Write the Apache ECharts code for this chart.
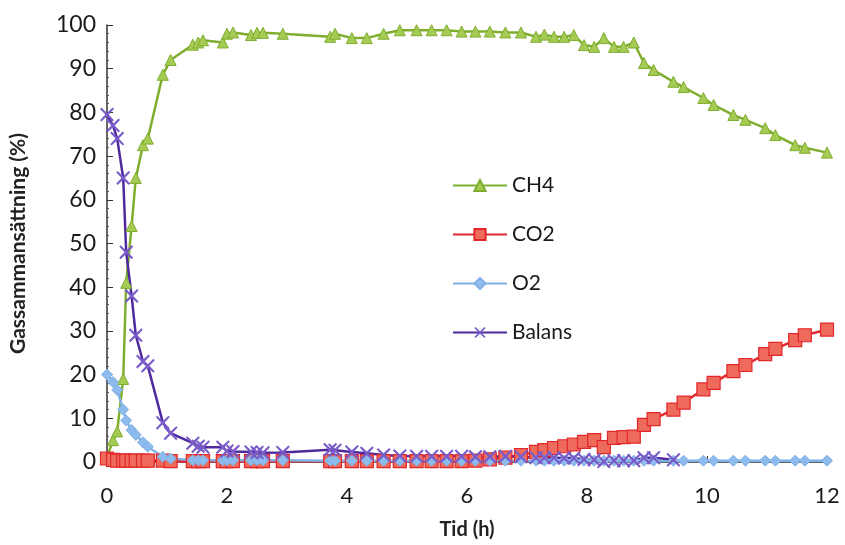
<!DOCTYPE html>
<html>
<head>
<meta charset="utf-8">
<title>Gassammansättning</title>
<script src="https://cdn.jsdelivr.net/npm/echarts@6/dist/echarts.min.js"></script>
<style>
  html, body { margin: 0; padding: 0; background: #fff; }
  #main { width: 845px; height: 545px; }
</style>
</head>
<body>
<div id="main"></div>
<script>
// tid (h) och gashalter (%)
const tid = [0, 0.1, 0.17, 0.27, 0.32, 0.41, 0.48, 0.6, 0.68, 0.93,
  1.06, 1.43, 1.52, 1.6, 1.93, 2.0, 2.1, 2.4, 2.5, 2.6,
  2.93, 3.72, 3.8, 4.08, 4.33, 4.61, 4.88, 5.16, 5.41, 5.66,
  5.91, 6.14, 6.38, 6.64, 6.9, 7.15, 7.29, 7.45, 7.62, 7.78,
  7.95, 8.12, 8.28, 8.45, 8.61, 8.78, 8.95, 9.11, 9.44, 9.61,
  9.94, 10.11, 10.44, 10.64, 10.97, 11.14, 11.47, 11.63, 12];
const ch4 = [1, 5, 7, 19, 41, 54, 65, 72.5, 74, 88.6,
  92, 95.5, 96, 96.5, 96, 98, 98.3, 97.7, 98.2, 98.2,
  98, 97.3, 98, 97, 97, 98, 98.8, 98.8, 98.8, 98.8,
  98.5, 98.5, 98.5, 98.3, 98.3, 97.3, 97.8, 97.3, 97.3, 97.7,
  95.4, 95, 97, 95, 95, 96, 91.3, 89.7, 87, 85.8,
  83.3, 81.7, 79.4, 78.3, 76.4, 74.8, 72.5, 71.9, 70.8];
const co2 = [0.8, 0.5, 0.3, 0.3, 0.3, 0.3, 0.3, 0.3, 0.3, 0.3,
  0.2, 0.2, 0.2, 0.2, 0.2, 0.2, 0.2, 0.2, 0.2, 0.2,
  0.2, 0.2, 0.2, 0.2, 0.2, 0.2, 0.2, 0.2, 0.2, 0.2,
  0.2, 0.3, 0.6, 1.0, 1.6, 2.3, 2.7, 3.2, 3.6, 4.0,
  4.6, 5.0, 3.4, 5.5, 5.7, 5.8, 8.5, 9.8, 12, 13.6,
  16.6, 18.1, 20.8, 22.2, 24.7, 25.9, 27.9, 29, 30.3];
const o2 = [20, 18.3, 16.5, 12, 9.5, 7.3, 6.2, 4.5, 3.5, 1.2,
  0.8, 0.4, 0.4, 0.4, 0.4, 0.4, 0.4, 0.4, 0.4, 0.4,
  0.4, 0.3, 0.3, 0.3, 0.3, 0.3, 0.3, 0.3, 0.3, 0.3,
  0.3, 0.3, 0.3, 0.3, 0.3, 0.3, 0.3, 0.3, 0.3, 0.3,
  0.3, 0.3, 0.3, 0.3, 0.3, 0.3, 0.3, 0.3, 0.3, 0.3,
  0.3, 0.3, 0.3, 0.3, 0.3, 0.3, 0.3, 0.3, 0.3];
const balans = [79.5, 77, 74, 65, 48, 38, 29, 23, 22, 9,
  6.6, 4.3, 3.6, 3.4, 3.4, 2.5, 2.4, 2.3, 2.2, 2.1,
  2.2, 2.8, 2.7, 2.3, 2.0, 1.6, 1.4, 1.3, 1.3, 1.3,
  1.3, 1.2, 1.2, 1.3, 1.2, 1.0, 1.0, 1.0, 0.9, 0.9,
  0.6, 0.5, 0.1, 0.3, 0.3, 0.3, 1.0, 1.0, 0.5, null,
  null, null, null, null, null, null, null, null, null];

const xTicks = [0, 2, 4, 6, 8, 10, 12];

// tunt kryss som markör
const kryss = 'path://M1,0 L5,3.8 L9,0 L10,1 L6.2,5 L10,9 L9,10 L5,6.2 L1,10 L0,9 L3.8,5 L0,1 Z';

function pairs(vals) {
  return tid.map((t, i) => [t, vals[i]]).filter(p => p[1] !== null);
}

function serie(name, vals, lineColor, fill, symbol, size, bw) {
  return {
    name: name,
    type: 'line',
    data: pairs(vals),
    symbol: symbol,
    symbolSize: size,
    showAllSymbol: true,
    lineStyle: { color: lineColor, width: 2.5 },
    itemStyle: { color: fill, borderColor: lineColor, borderWidth: bw },
    emphasis: { disabled: true },
    animation: false
  };
}

const chart = echarts.init(document.getElementById('main'));
chart.setOption({
  backgroundColor: '#fff',
  textStyle: { fontFamily: 'Lato' },
  grid: { left: 104, right: 18, top: 25, bottom: 83 },
  legend: {
    orient: 'vertical',
    left: 447,
    top: 168,
    itemWidth: 54,
    itemHeight: 14,
    itemGap: 24,
    textStyle: { fontSize: 21, color: '#1a1a1a', fontFamily: 'Lato', lineHeight: 25 },
    data: ['CH4', 'CO2', 'O2', 'Balans']
  },
  xAxis: {
    type: 'value',
    min: 0,
    max: 12,
    interval: 2,
    name: 'Tid (h)',
    nameLocation: 'middle',
    nameGap: 58,
    nameTextStyle: { fontSize: 20, fontWeight: 'bold', color: '#222' },
    axisLine: { show: true, lineStyle: { color: '#333', width: 1.5 } },
    axisTick: { show: true, inside: true, length: 6, lineStyle: { color: '#333' } },
    axisLabel: {
      fontSize: 22, color: '#1a1a1a', margin: 23,
      formatter: v => xTicks.includes(v) ? String(v) : ''
    },
    splitLine: { show: false }
  },
  yAxis: {
    type: 'value',
    min: 0,
    max: 100,
    interval: 10,
    name: 'Gassammansättning (%)',
    nameLocation: 'middle',
    nameGap: 78,
    nameTextStyle: { fontSize: 21, fontWeight: 'bold', color: '#222' },
    axisLine: { show: true, lineStyle: { color: '#333', width: 1.5 } },
    axisTick: { show: true, inside: true, length: 6, lineStyle: { color: '#333' } },
    minorTick: { show: true, splitNumber: 5, length: 2, lineStyle: { color: '#555' } },
    axisLabel: { fontSize: 23, color: '#1a1a1a', margin: 11 },
    splitLine: { show: false }
  },
  series: [
    serie('CH4', ch4, '#7FAE2E', '#A6CB55', 'triangle', 11, 1),
    serie('CO2', co2, '#E3262B', '#EE6B5C', 'rect', 13, 1.2),
    serie('O2', o2, '#7FB0E6', '#8DBBEE', 'diamond', 11, 1),
    serie('Balans', balans, '#4E2A9E', '#7A5CC8', kryss, 14, 0)
  ]
});
</script>
</body>
</html>
